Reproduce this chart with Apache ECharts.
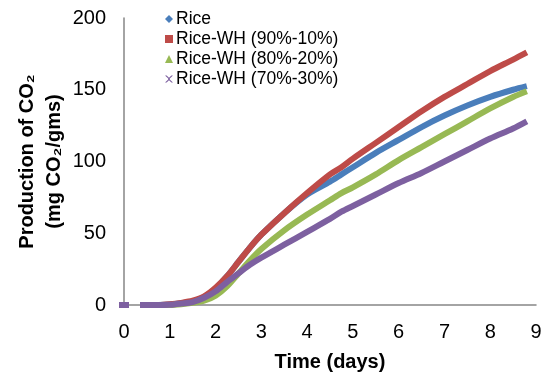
<!DOCTYPE html>
<html><head><meta charset="utf-8">
<script src="https://cdn.jsdelivr.net/npm/echarts@6/dist/echarts.min.js"></script>
<style>html,body{margin:0;padding:0;background:#fff}#c{width:547px;height:377px}</style>
</head><body><div id="c"></div>
<script>
const seriesNames = ['Rice', 'Rice-WH (90%-10%)', 'Rice-WH (80%-20%)', 'Rice-WH (70%-30%)'];
const days = [0.35, 0.5, 0.75, 1.0, 1.25, 1.5, 1.75, 2.0, 2.25, 2.5, 2.75, 3.0, 3.5, 4.0, 4.5, 4.75, 5.0, 5.5, 6.0, 6.5, 7.0, 7.5, 8.0, 8.5, 8.8];
const rice   = [0, 0, 0, 0.3, 1.2, 2.5, 5.5, 11.5, 20, 30, 40, 49, 64, 77, 86, 91, 96, 106, 115, 124, 132, 139, 145, 150, 152.5];
const rice90 = [0, 0, 0, 0.5, 1.5, 3, 6, 12, 20, 30, 40, 49, 64, 78, 91, 96, 102, 113, 124, 135, 145, 154, 163, 171, 176];
const rice80 = [0, 0, 0, 0, 0.5, 1.5, 3, 6.5, 13, 22, 31, 39, 52, 63, 73, 78, 82, 91, 101, 110, 119, 128, 137, 145, 149];
const rice70 = [0, 0, 0, 0.2, 1, 2, 5, 9.5, 16, 22, 28, 33, 42, 51, 60, 65, 69, 77, 85, 92, 100, 108, 116, 123, 128];
const startDay = [0];
const startValue = [0];
const xTicks = [0, 1, 2, 3, 4, 5, 6, 7, 8, 9];
const yTicks = [0, 50, 100, 150, 200];

const colors = ['#4a7ebb', '#be4b48', '#98b954', '#7d60a0'];
const icons = ['diamond', 'rect', 'triangle', 'path://M0,0 L2,0 L5,3 L8,0 L10,0 L6,4 L6,5 L10,9 L8,9 L5,6 L2,9 L0,9 L4,5 L4,4 Z'];
const allVals = [rice, rice90, rice80, rice70];

function build(vals) {
  const d = [{value: [startDay[0], startValue[0]], symbol: 'rect', symbolSize: [10, 6]}, {value: [null, null]}];
  days.forEach((t, i) => d.push({value: [t, vals[i]]}));
  return d;
}

const chart = echarts.init(document.getElementById('c'));
chart.setOption({
  animation: false,
  textStyle: {fontFamily: 'Liberation Sans, Arial, sans-serif'},
  color: colors,
  grid: {left: 124, right: 11, top: 18, bottom: 70},
  legend: {
    orient: 'vertical', left: 160, top: 5, itemWidth: 8, itemHeight: 8, itemGap: 2,
    textStyle: {fontSize: 17.5, color: '#000', padding: [0, 0, 0, -2]},
    data: seriesNames.map((n, i) => ({name: n, icon: icons[i], itemStyle: {color: colors[i]}}))
  },
  xAxis: {
    type: 'value', min: 0, max: 9, interval: 1,
    axisLine: {show: true, lineStyle: {color: '#868686', width: 1.5}},
    axisTick: {show: false}, splitLine: {show: false},
    axisLabel: {fontSize: 20, color: '#000', margin: 17, formatter: v => xTicks.includes(v) ? String(v) : ''},
    name: 'Time (days)', nameLocation: 'middle', nameGap: 47, nameMoveOverlap: false,
    nameTextStyle: {fontSize: 20, fontWeight: 'bold', color: '#000'}
  },
  yAxis: {
    type: 'value', min: 0, max: 200, interval: 50,
    axisLine: {show: true, lineStyle: {color: '#868686', width: 1.5}},
    axisTick: {show: false}, splitLine: {show: false},
    axisLabel: {fontSize: 20, color: '#000', margin: 18, formatter: v => yTicks.includes(v) ? String(v) : ''},
    name: 'Production of CO\u2082\n(mg CO\u2082/gms)', nameLocation: 'middle', nameGap: 56, nameRotate: 90,
    nameMoveOverlap: false,
    nameTextStyle: {fontSize: 20, fontWeight: 'bold', color: '#000', lineHeight: 27, align: 'center'}
  },
  series: seriesNames.map((n, i) => ({
    name: n, type: 'line', smooth: 0.3, symbol: 'none', showSymbol: true,
    connectNulls: false,
    lineStyle: {width: 6, color: colors[i]}, itemStyle: {color: colors[i]},
    data: build(allVals[i])
  }))
});
</script></body></html>
